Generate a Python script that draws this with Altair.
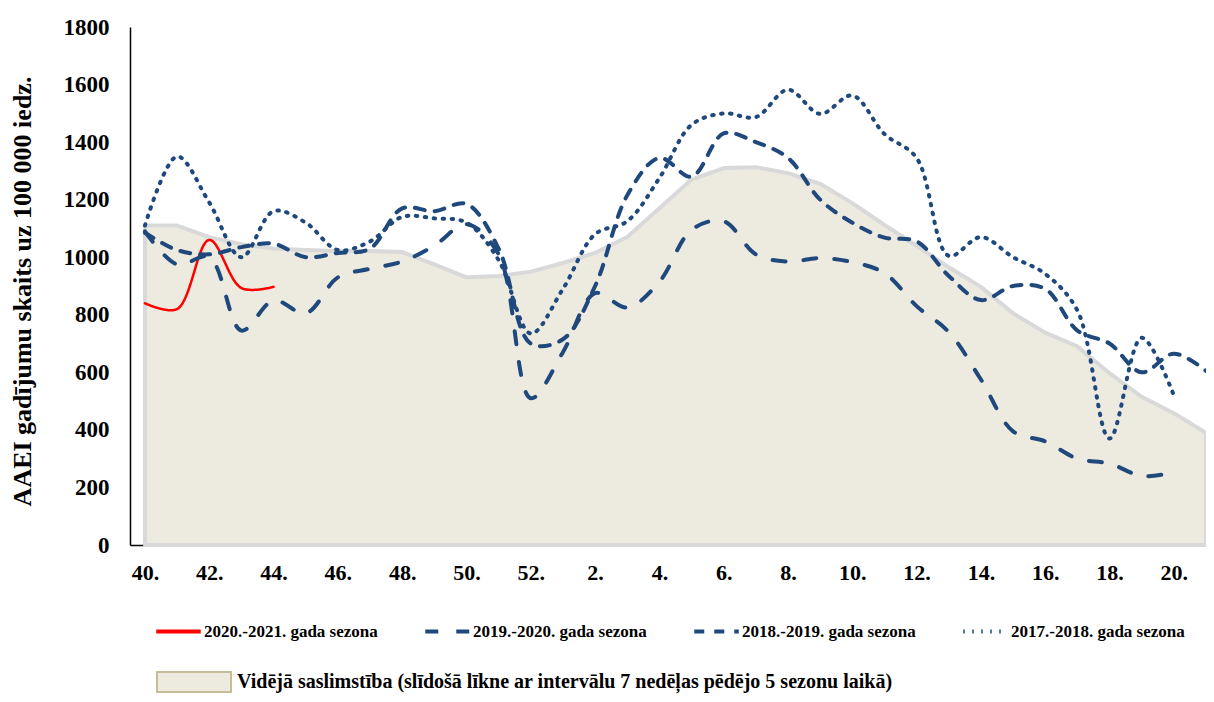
import json
import altair as alt
import pandas as pd

WEEK_LABELS = ["40.", "41.", "42.", "43.", "44.", "45.", "46.", "47.", "48.", "49.", "50.", "51.", "52.",
               "1.", "2.", "3.", "4.", "5.", "6.", "7.", "8.", "9.", "10.", "11.", "12.", "13.", "14.",
               "15.", "16.", "17.", "18.", "19.", "20.", "21."]

AVERAGE = [1110, 1110, 1070, 1045, 1030, 1025, 1022, 1022, 1018, 975, 930, 935, 950, 980, 1015, 1070,
           1170, 1270, 1310, 1313, 1292, 1255, 1188, 1112, 1040, 965, 897, 805, 738, 690, 597, 515, 458, 390]

SEASON_2020_21 = [840, 820, 1060, 893, 897]
SEASON_2019_20 = [1090, 975, 1000, 745, 850, 805, 930, 960, 985, 1040, 1115, 1010, 510, 670, 875, 825,
                  915, 1095, 1125, 1010, 985, 997, 983, 945, 830, 740, 575, 395, 360, 300, 283, 240, 252]
SEASON_2018_19 = [1085, 1025, 1010, 1035, 1047, 1000, 1015, 1030, 1170, 1160, 1185, 1030, 700, 715, 900,
                  1215, 1345, 1280, 1430, 1400, 1345, 1200, 1120, 1068, 1055, 935, 851, 900, 890, 745,
                  700, 600, 665, 605]
SEASON_2017_18 = [1110, 1350, 1190, 1000, 1160, 1120, 1025, 1055, 1140, 1135, 1120, 990, 735, 890, 1080,
                  1125, 1275, 1460, 1500, 1487, 1582, 1498, 1562, 1428, 1345, 1005, 1070, 1000, 942, 815,
                  370, 720, 520]

SERIES_NAMES = ["2020.-2021. gada sezona", "2019.-2020. gada sezona",
                "2018.-2019. gada sezona", "2017.-2018. gada sezona"]
AREA_NAME = "Vidējā saslimstība (slīdošā līkne ar intervālu 7 nedēļas pēdējo 5 sezonu laikā)"
Y_TITLE = "AAEI gadījumu skaits uz 100 000 iedz."

# ---- tables built from the arrays above ----
avg_df = pd.DataFrame({"idx": range(len(AVERAGE)), "value": AVERAGE, "name": AREA_NAME})
rows = []
for name, vals in zip(SERIES_NAMES, [SEASON_2020_21, SEASON_2019_20, SEASON_2018_19, SEASON_2017_18]):
    for i, v in enumerate(vals):
        rows.append({"idx": i, "value": v, "series": name})
lines_df = pd.DataFrame(rows)

FONT = "Liberation Serif"
BLUE = "#1F497D"

x_enc = alt.X(
    "idx:Q",
    scale=alt.Scale(domain=[-0.465, 33.0], nice=False, zero=False),
    axis=alt.Axis(
        values=list(range(0, 33, 2)),
        labelExpr=json.dumps(WEEK_LABELS) + "[datum.value]",
        title=None,
        labelFont=FONT, labelFontSize=22, labelFontWeight="bold", labelColor="black",
        labelPadding=17, ticks=False, tickSize=0, grid=False,
        domainColor="black", domainWidth=1.5, labelFlush=False,
    ),
)
y_enc = alt.Y(
    "value:Q",
    scale=alt.Scale(domain=[0, 1800], nice=False),
    axis=alt.Axis(
        values=list(range(0, 1801, 200)),
        format="d",
        title=Y_TITLE,
        titleFont=FONT, titleFontSize=26, titleFontWeight="bold", titleColor="black",
        titleAngle=270, titleAlign="center", titleBaseline="middle",
        titleX=-108, titleY=264,
        labelFont=FONT, labelFontSize=23, labelFontWeight="bold", labelColor="black",
        labelPadding=21, ticks=False, tickSize=0, grid=False,
        domainColor="black", domainWidth=1.5,
    ),
)

area = alt.Chart(avg_df).mark_area(
    interpolate="linear", stroke="#D9D9D9", strokeWidth=4, strokeJoin="round"
).encode(
    x=x_enc,
    y=y_enc,
    fill=alt.Fill(
        "name:N",
        scale=alt.Scale(domain=[AREA_NAME], range=["#EDEAE0"]),
        legend=alt.Legend(
            orient="none", legendX=26, legendY=617, title=None, padding=0,
            symbolType="M-1,-0.27H1V0.27H-1Z", symbolSize=5476,
            symbolStrokeColor="#C4BD97", symbolStrokeWidth=2, symbolFillColor="#EDEAE0",
            labelFont=FONT, labelFontSize=20, labelFontWeight="bold", labelColor="black",
            labelLimit=0, labelOffset=5,
        ),
    ),
)

series_legend = alt.Legend(
    orient="none", legendX=24, legendY=580, title=None, padding=0,
    direction="horizontal", columns=4, columnPadding=39, gridAlign="none",
    symbolType="stroke", symbolSize=1980, symbolStrokeWidth=4,
    labelFont=FONT, labelFontSize=17, labelFontWeight="bold", labelColor="black",
    labelLimit=0, labelOffset=1,
)

lines = alt.Chart(lines_df).mark_line(
    interpolate="catmull-rom", strokeCap="round", strokeJoin="round"
).encode(
    x=x_enc,
    y=y_enc,
    color=alt.Color(
        "series:N",
        scale=alt.Scale(domain=SERIES_NAMES, range=["#FF0000", BLUE, BLUE, BLUE]),
        legend=series_legend,
    ),
    strokeDash=alt.StrokeDash(
        "series:N",
        scale=alt.Scale(domain=SERIES_NAMES, range=[[1, 0], [13, 18], [10, 10], [1.5, 7.5]]),
        legend=series_legend,
    ),
    strokeWidth=alt.condition(
        alt.datum.series == SERIES_NAMES[0], alt.value(2.5), alt.value(4)
    ),
)

chart = alt.layer(area, lines).resolve_legend(fill="independent").properties(
    width=1076,
    height=518,
    padding={"left": 122, "top": 19, "right": 0, "bottom": 149},
    autosize=alt.AutoSizeParams(type="none"),
    background="white",
).configure_view(stroke=None)

chart.save("out.html", embed_options={"renderer": "svg", "actions": False})
